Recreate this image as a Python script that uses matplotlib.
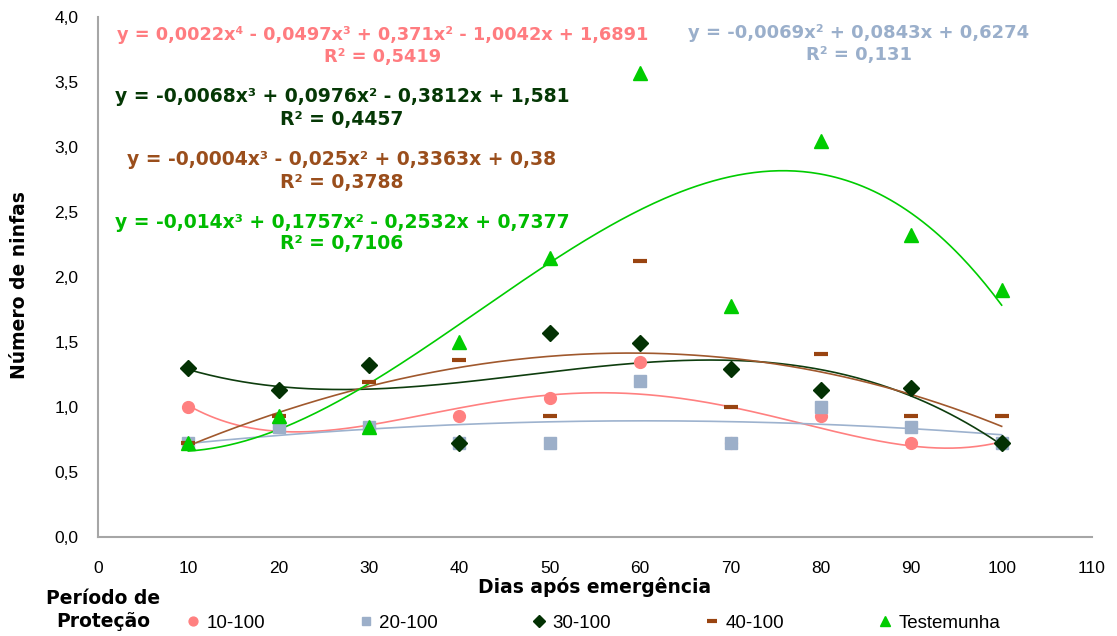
import numpy as np
import matplotlib; matplotlib.use("Agg")
import matplotlib.pyplot as plt
from matplotlib.lines import Line2D

plt.rcParams['font.family'] = ['Liberation Sans', 'DejaVu Sans']

# --- data ---
dias = [10, 20, 30, 40, 50, 60, 70, 80, 90, 100]
p10_100 = [1.00, 0.85, 0.85, 0.93, 1.07, 1.35, 0.72, 0.93, 0.72, 0.72]
p20_100 = [0.72, 0.85, 0.85, 0.72, 0.72, 1.20, 0.72, 1.00, 0.85, 0.72]
p30_100 = [1.30, 1.13, 1.32, 0.72, 1.57, 1.49, 1.29, 1.13, 1.15, 0.72]
p40_100 = [0.72, 0.93, 1.19, 1.36, 0.93, 2.12, 1.00, 1.41, 0.93, 0.93]
testemunha = [0.72, 0.93, 0.85, 1.50, 2.15, 3.57, 1.78, 3.05, 2.32, 1.90]

# polynomial trendline degree per series (x = sample index 1..10, as in Excel)
graus = [4, 2, 3, 3, 3]

eq10 = ["y = 0,0022x⁴ - 0,0497x³ + 0,371x² - 1,0042x + 1,6891", "R² = 0,5419"]
eq20 = ["y = -0,0069x² + 0,0843x + 0,6274", "R² = 0,131"]
eq30 = ["y = -0,0068x³ + 0,0976x² - 0,3812x + 1,581", "R² = 0,4457"]
eq40 = ["y = -0,0004x³ - 0,025x² + 0,3363x + 0,38", "R² = 0,3788"]
eqtest = ["y = -0,014x³ + 0,1757x² - 0,2532x + 0,7377", "R² = 0,7106"]

labels = ["10-100", "20-100", "30-100", "40-100", "Testemunha"]

series = [
    (p10_100, eq10, dict(marker="o", ms=8.5, mfc="#FF8080", mec="#FF8080"), "#FF8080", "#FF7C80", (383, 35, 12.8)),
    (p20_100, eq20, dict(marker="s", ms=8, mfc="#9CAFC9", mec="#9CAFC9"), "#9DB2CE", "#9AAFCB", (859, 33, 13.0)),
    (p30_100, eq30, dict(marker="D", ms=8, mfc="#033103", mec="#033103"), "#0E3D0E", "#053805", (342, 97, 13.5)),
    (p40_100, eq40, dict(marker="_", ms=10, mew=3, mec="#994411"), "#A0582D", "#9A4E1C", (342, 160, 13.5)),
    (testemunha, eqtest, dict(marker="^", ms=9.5, mfc="#00CC00", mec="#00CC00"), "#00CC00", "#00BB00", (342, 222, 13.5)),
]

W, H = 1117, 636
fig = plt.figure(figsize=(W / 100, H / 100), dpi=100)
ax = fig.add_axes([98 / W, 1 - 537 / H, (1092 - 98) / W, (537 - 17) / H])

idx = np.array(dias) / 10
xs = np.linspace(10, 100, 300)
handles = []
for (ys, eq, mk, lc, tc, (tx, ty, fs)), g in zip(series, graus):
    coef = np.polyfit(idx, ys, g)
    ax.plot(xs, np.polyval(coef, xs / 10), color=lc, lw=1.2, zorder=2)
    ax.plot(dias, ys, ls="none", zorder=3, **mk)
    hk = dict(mk)
    hk["ms"] = mk["ms"] * 0.75
    handles.append(Line2D([], [], ls="none", **hk))
    fig.text(tx / W, 1 - ty / H, eq[0], color=tc, fontsize=fs, fontweight="bold",
             family="DejaVu Sans", ha="center", va="center")
    fig.text(tx / W, 1 - (ty + 22) / H, eq[1], color=tc, fontsize=fs, fontweight="bold",
             family="DejaVu Sans", ha="center", va="center")

ax.set_xlim(0, 110)
ax.set_ylim(0, 4)
ax.set_xticks(range(0, 111, 10))
ax.set_yticks(np.arange(0, 4.01, 0.5))
ax.set_yticklabels([f"{v:.1f}".replace(".", ",") for v in np.arange(0, 4.01, 0.5)])
ax.tick_params(length=0, labelsize=12.5)
ax.tick_params(axis="y", pad=14)
ax.tick_params(axis="x", pad=17)
for s in ("top", "right"):
    ax.spines[s].set_visible(False)
for s in ("left", "bottom"):
    ax.spines[s].set_color("#A6A6A6")
    ax.spines[s].set_linewidth(1.5)

ax.set_xlabel("Dias após emergência", fontsize=13.5, fontweight="bold",
              family="DejaVu Sans", labelpad=1)
ax.set_ylabel("Número de ninfas", fontsize=13.5, fontweight="bold",
              family="DejaVu Sans")
ax.yaxis.set_label_coords(29 / W, 1 - 285 / H, transform=fig.transFigure)

fig.text(103 / W, 1 - 610 / H, "Período de\nProteção", fontsize=13.5, fontweight="bold",
         family="DejaVu Sans", ha="center", va="center", linespacing=1.25)
fig.legend(handles, labels, loc="center left", bbox_to_anchor=(178 / W, 1 - 623 / H),
           ncol=5, frameon=False, fontsize=13.5, handlelength=0.8, handletextpad=0.3,
           columnspacing=5.0, borderaxespad=0)

fig.savefig("out.png", dpi=100)
